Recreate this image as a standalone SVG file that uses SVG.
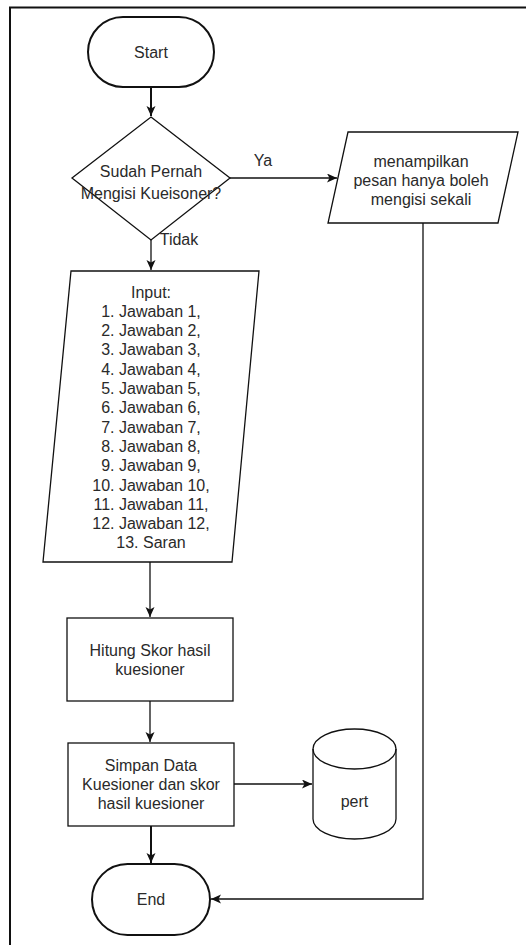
<svg xmlns="http://www.w3.org/2000/svg" width="526" height="945" viewBox="0 0 526 945">
<style>
.s{fill:#fff;stroke:#111;stroke-width:1.3}
.t{fill:#fff;stroke:#111;stroke-width:2}
.e{fill:none;stroke:#111;stroke-width:1.3}
.eb{fill:none;stroke:#111;stroke-width:2}
text{font-family:"Liberation Sans",Arial,sans-serif;font-size:16px;fill:#2a2a2a;text-anchor:middle}
</style>
<defs>
<marker id="a" markerUnits="userSpaceOnUse" markerWidth="12" markerHeight="10" refX="10" refY="4.5" orient="auto">
<path d="M0,0 L10,4.5 L0,9 L2.5,4.5 Z" fill="#111"/>
</marker>
</defs>
<rect width="526" height="945" fill="#fff"/>
<g id="frame"><path d="M10,945 V7.5 H526" fill="none" stroke="#111" stroke-width="2"/></g>
<g id="connectors">
<path class="eb" d="M151,87 V116" marker-end="url(#a)"/>
<path class="e" d="M230,178 H337" marker-end="url(#a)"/>
<path class="e" d="M151,240 V270" marker-end="url(#a)"/>
<path class="e" d="M150,562 V617" marker-end="url(#a)"/>
<path class="e" d="M150,701 V742" marker-end="url(#a)"/>
<path class="e" d="M234,784 H312" marker-end="url(#a)"/>
<path class="eb" d="M151,826 V863" marker-end="url(#a)"/>
<path class="e" d="M423,223 V899 H211" marker-end="url(#a)"/>
<text x="263" y="166">Ya</text>
<text x="179" y="245">Tidak</text>
</g>
<g id="start">
<rect class="t" x="88" y="17" width="126" height="70" rx="35" ry="35"/>
<text x="151" y="58">Start</text>
</g>
<g id="decision">
<path class="s" d="M151,117 L230,178 L151,240 L72,178 Z"/>
<text x="151" y="177">Sudah Pernah</text>
<text x="151" y="199">Mengisi Kueisoner?</text>
</g>
<g id="message">
<path class="s" d="M348,132 L518,132 L498,223 L328,223 Z"/>
<text x="421" y="167">menampilkan</text>
<text x="421" y="186">pesan hanya boleh</text>
<text x="421" y="205">mengisi sekali</text>
</g>
<g id="input">
<path class="s" d="M71,271 L259,271 L232,562 L43,562 Z"/>
<text x="151" y="297.5">Input:</text>
<text x="151" y="316.8">1. Jawaban 1,</text>
<text x="151" y="336.1">2. Jawaban 2,</text>
<text x="151" y="355.4">3. Jawaban 3,</text>
<text x="151" y="374.7">4. Jawaban 4,</text>
<text x="151" y="394">5. Jawaban 5,</text>
<text x="151" y="413.3">6. Jawaban 6,</text>
<text x="151" y="432.6">7. Jawaban 7,</text>
<text x="151" y="451.9">8. Jawaban 8,</text>
<text x="151" y="471.2">9. Jawaban 9,</text>
<text x="151" y="490.5">10. Jawaban 10,</text>
<text x="151" y="509.8">11. Jawaban 11,</text>
<text x="151" y="529.1">12. Jawaban 12,</text>
<text x="151" y="548.4">13. Saran</text>
</g>
<g id="hitung">
<rect class="s" x="67" y="618" width="166" height="83"/>
<text x="150" y="656">Hitung Skor hasil</text>
<text x="150" y="675">kuesioner</text>
</g>
<g id="simpan">
<rect class="s" x="68" y="743" width="166" height="83"/>
<text x="151" y="771">Simpan Data</text>
<text x="151" y="790">Kuesioner dan skor</text>
<text x="151" y="809">hasil kuesioner</text>
</g>
<g id="pert">
<path class="s" d="M313,749 A41.5,20 0 0 1 396,749 V819 A41.5,20 0 0 1 313,819 Z"/>
<path class="e" d="M313,749 A41.5,20 0 0 0 396,749"/>
<text x="354.5" y="807">pert</text>
</g>
<g id="end">
<rect class="t" x="92" y="864" width="118" height="71" rx="35.5" ry="35.5"/>
<text x="151" y="905">End</text>
</g>
</svg>
